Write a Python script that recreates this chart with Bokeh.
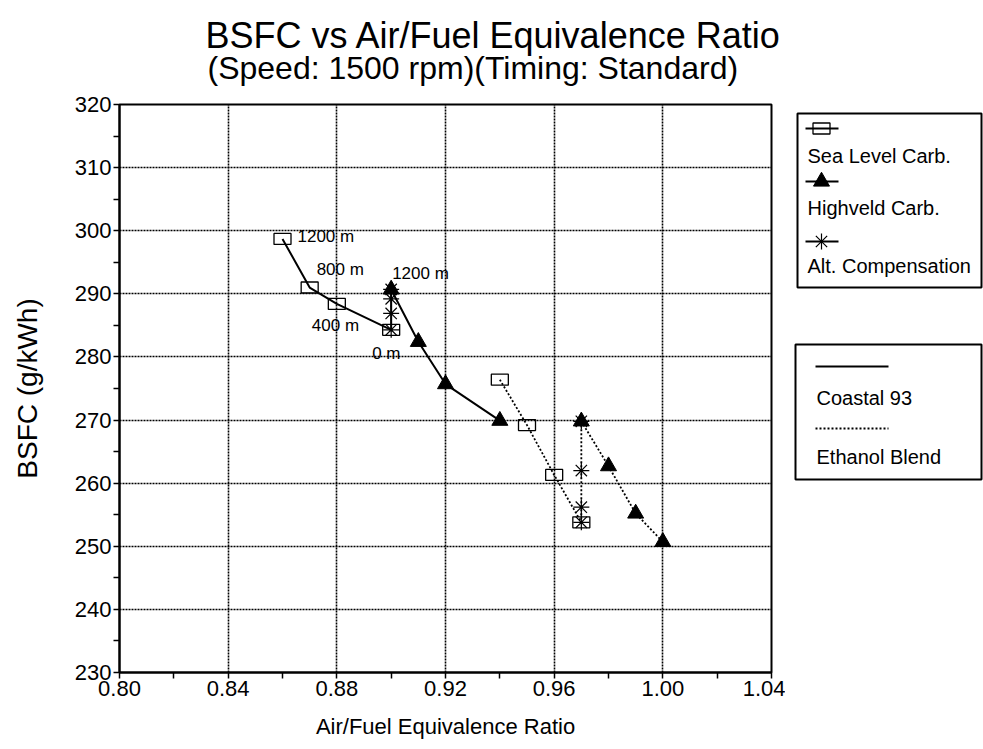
from bokeh.plotting import figure
from bokeh.models import Range1d, FixedTicker, PrintfTickFormatter, Title
from bokeh.layouts import row
from bokeh.core.properties import value
from bokeh.embed import file_html
from bokeh.resources import INLINE

FONT = "Liberation Sans"

# Axis ticks
x_ticks = [0.80, 0.84, 0.88, 0.92, 0.96, 1.00, 1.04]
x_minor = [0.82, 0.86, 0.90, 0.94, 0.98, 1.02]
y_ticks = [230, 240, 250, 260, 270, 280, 290, 300, 310, 320]
y_minor = [235, 245, 255, 265, 275, 285, 295, 305, 315]

# Coastal 93 fuel (solid lines)
sea_coastal_x = [0.86, 0.87, 0.88, 0.90]
sea_coastal_y = [298.7, 291.0, 288.4, 284.3]
high_coastal_x = [0.90, 0.91, 0.92, 0.94]
high_coastal_y = [290.7, 282.4, 275.7, 269.9]
alt_coastal_x = [0.90, 0.90, 0.90, 0.90]
alt_coastal_y = [290.7, 289.2, 286.9, 284.3]

# Ethanol blend (dotted lines)
sea_ethanol_x = [0.94, 0.95, 0.96, 0.97]
sea_ethanol_y = [276.4, 269.2, 261.3, 253.8]
high_ethanol_x = [0.97, 0.98, 0.99, 1.00]
high_ethanol_y = [269.8, 262.7, 255.2, 250.7]
alt_ethanol_x = [0.97, 0.97, 0.97, 0.97]
alt_ethanol_y = [269.8, 262.0, 256.2, 253.8]

# Altitude annotations on the sea-level carburettor curve (Coastal 93)
altitudes = ["1200 m", "800 m", "400 m", "0 m"]
alt_dx = [15, 7, -25, -19]
alt_dy = [-2, -18, 22, 24]

TOP, BOTTOM = 104, 77
p = figure(width=785, height=749, output_backend="svg", toolbar_location=None,
           x_range=Range1d(0.80, 1.04), y_range=Range1d(230, 320),
           min_border_left=119, min_border_right=14,
           min_border_top=TOP, min_border_bottom=BOTTOM)
p.background_fill_color = "white"
p.border_fill_color = "white"
p.outline_line_color = "black"
p.outline_line_width = 2

# Title stack, from the frame outwards: thin spacer, subtitle, main title
p.add_layout(Title(text=" ", text_font=FONT, text_font_size="1px", standoff=16), "above")
p.add_layout(Title(text="(Speed: 1500 rpm)(Timing: Standard)", text_font=FONT,
                   text_font_size="32px", text_font_style="normal", text_color="black",
                   align="left", offset=88, standoff=0), "above")
p.title.text = "BSFC vs Air/Fuel Equivalence Ratio"
p.title.text_font = FONT
p.title.text_font_size = "36px"
p.title.text_font_style = "normal"
p.title.text_color = "black"
p.title.align = "left"
p.title.offset = 86
p.title.standoff = -16

for ax in (p.xaxis, p.yaxis):
    ax.axis_line_width = 2
    ax.axis_line_color = "black"
    ax.major_tick_line_color = "black"
    ax.minor_tick_line_color = "black"
    ax.major_tick_line_width = 1.5
    ax.minor_tick_line_width = 1.5
    ax.major_tick_in = 0
    ax.major_tick_out = 6
    ax.minor_tick_in = 0
    ax.minor_tick_out = 6
    ax.major_label_text_font = FONT
    ax.major_label_text_font_size = "22px"
    ax.major_label_text_color = "black"
    ax.axis_label_text_font = FONT
    ax.axis_label_text_font_style = "normal"
    ax.axis_label_text_color = "black"

p.xaxis.ticker = FixedTicker(ticks=x_ticks, minor_ticks=x_minor)
p.xaxis.formatter = PrintfTickFormatter(format="%.2f")
p.xaxis.axis_label = "Air/Fuel Equivalence Ratio"
p.xaxis.axis_label_text_font_size = "22px"
p.xaxis.major_label_standoff = 2
p.xaxis.axis_label_standoff = 15

p.yaxis.ticker = FixedTicker(ticks=y_ticks, minor_ticks=y_minor)
p.yaxis.axis_label = "BSFC (g/kWh)"
p.yaxis.axis_label_text_font_size = "28px"
p.yaxis.major_label_standoff = 2
p.yaxis.axis_label_standoff = 29

p.xgrid.ticker = FixedTicker(ticks=x_ticks)
p.ygrid.ticker = FixedTicker(ticks=y_ticks)
p.grid.grid_line_color = "black"
p.grid.grid_line_width = 1.6
p.grid.grid_line_dash = "2 1"

# Curves
solid = dict(line_color="black", line_width=2)
dotted = dict(line_color="black", line_width=1.8, line_dash="2 2")
p.line(sea_coastal_x, sea_coastal_y, **solid)
p.line(high_coastal_x, high_coastal_y, **solid)
p.line(alt_coastal_x, alt_coastal_y, **solid)
p.line(sea_ethanol_x, sea_ethanol_y, **dotted)
p.line(high_ethanol_x, high_ethanol_y, **dotted)
p.line(alt_ethanol_x, alt_ethanol_y, **dotted)

# Markers
sq = dict(width=17, height=11, width_units="screen", height_units="screen",
          fill_alpha=0, line_color="black", line_width=1.3)
p.rect(sea_coastal_x, sea_coastal_y, **sq)
p.rect(sea_ethanol_x, sea_ethanol_y, **sq)
tri = dict(marker="triangle", size=16, fill_color="black", line_color="black")
p.scatter(high_coastal_x, high_coastal_y, **tri)
p.scatter(high_ethanol_x, high_ethanol_y, **tri)
ast = dict(marker="asterisk", size=16, line_color="black", line_width=1.2)
p.scatter(alt_coastal_x, alt_coastal_y, **ast)
p.scatter(alt_ethanol_x, alt_ethanol_y, **ast)

# Altitude labels
lab = dict(text_font=value(FONT), text_font_size="17px", text_color="black",
           text_baseline="middle", text_align="left")
p.text(sea_coastal_x, sea_coastal_y, text=altitudes, x_offset=alt_dx, y_offset=alt_dy, **lab)
p.text([high_coastal_x[0]], [high_coastal_y[0]], text=[altitudes[0]], x_offset=1, y_offset=-16, **lab)

# Legend panel: its frame is aligned with the main frame, ranges in page pixels
lg = figure(width=198, height=749, output_backend="svg", toolbar_location=None,
            x_range=Range1d(785, 983), y_range=Range1d(749 - BOTTOM, TOP),
            x_axis_location=None, y_axis_location=None,
            min_border_left=0, min_border_right=0,
            min_border_top=TOP, min_border_bottom=BOTTOM)
lg.grid.visible = False
lg.outline_line_color = None
lg.background_fill_color = "white"
lg.border_fill_color = "white"

box = dict(fill_alpha=0, line_color="black", line_width=2)
lg.quad(left=[797], right=[981], top=[113], bottom=[287], **box)
lg.quad(left=[795], right=[981], top=[344], bottom=[479], **box)

series_names = ["Sea Level Carb.", "Highveld Carb.", "Alt. Compensation"]
sym_y = [128, 181, 241]
txt_y = [155, 207, 265]
for yy in sym_y:
    lg.line([805, 838], [yy, yy], line_color="black", line_width=1.8)
lg.rect([821], [sym_y[0]], **sq)
lg.scatter([821], [sym_y[1]], **tri)
lg.scatter([821], [sym_y[2]], **ast)
leg_txt = dict(text_font=value(FONT), text_font_size="20px", text_color="black",
               text_baseline="middle", text_align="left")
lg.text([807, 807, 807], txt_y, text=series_names, **leg_txt)

fuel_names = ["Coastal 93", "Ethanol Blend"]
lg.line([815, 888], [366, 366], line_color="black", line_width=2.2)
lg.line([815, 888], [428, 428], line_color="black", line_width=1.8, line_dash="2 2")
lg.text([816, 816], [397, 456], text=fuel_names, **leg_txt)

layout = row(p, lg)
open("out.html", "w").write(file_html(layout, INLINE))
